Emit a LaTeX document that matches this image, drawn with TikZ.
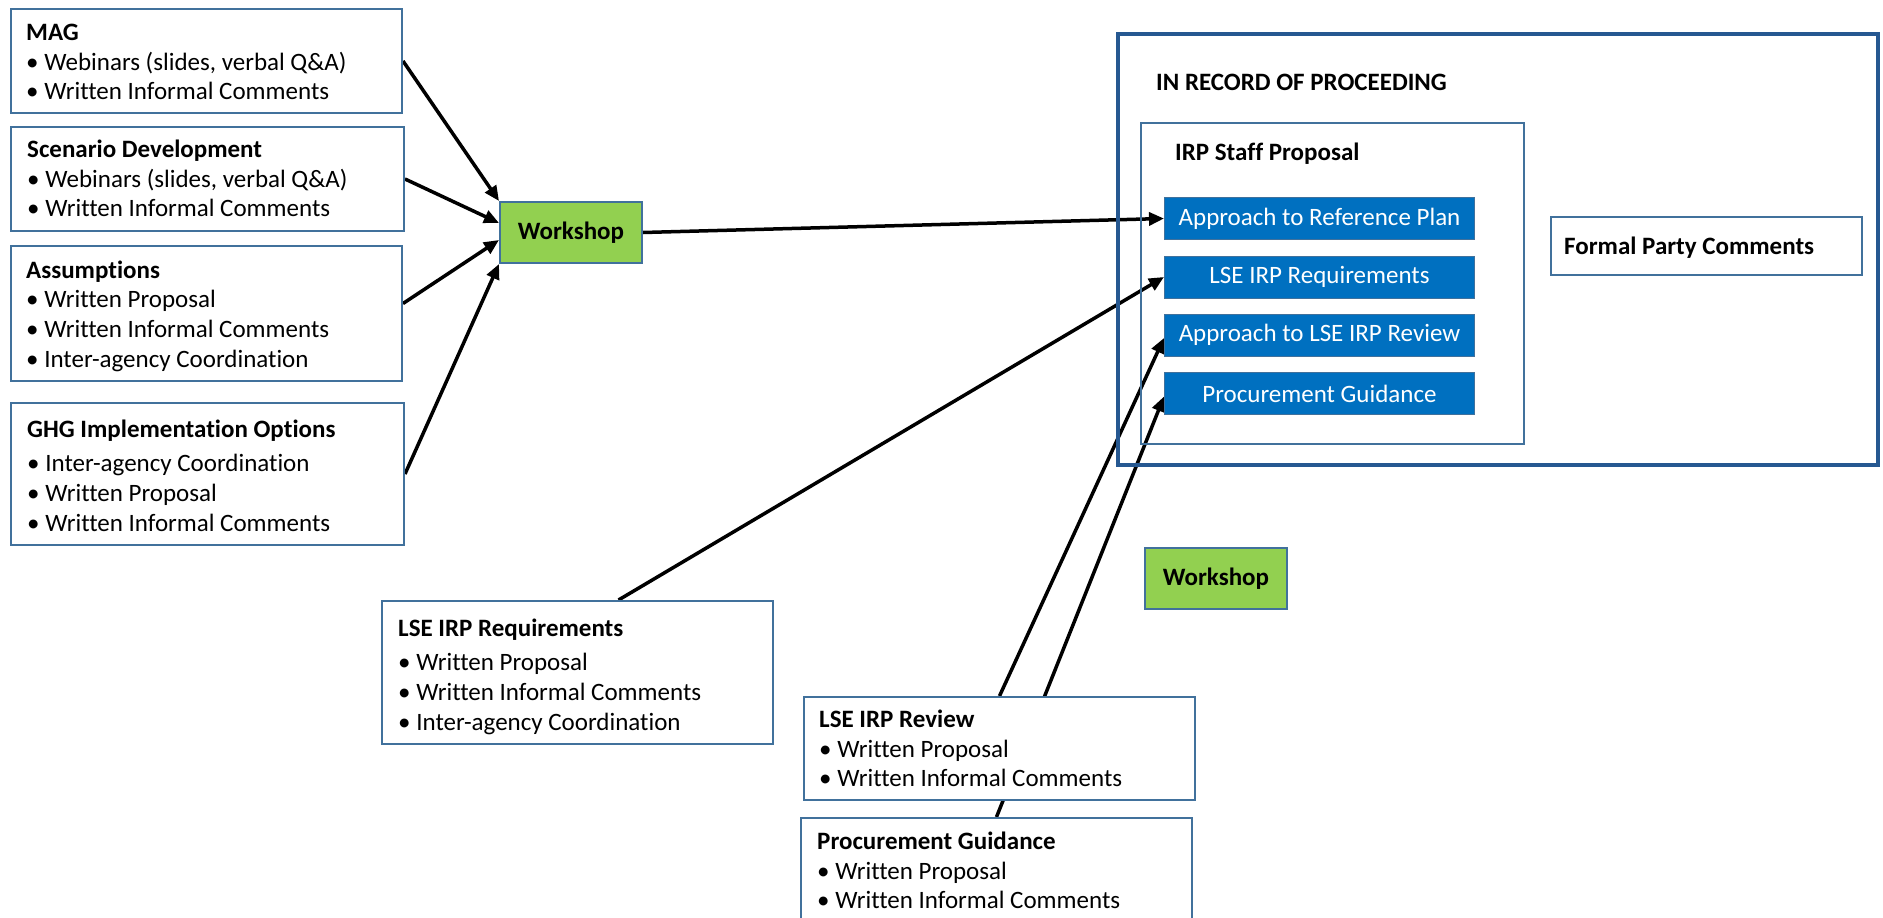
\documentclass[tikz,border=0pt]{standalone}
\usepackage{fontspec}
\setmainfont{Carlito}[Ligatures={NoCommon}]
\usetikzlibrary{arrows.meta}
\definecolor{edgeblue}{RGB}{65,113,156}
\definecolor{darkblue}{RGB}{38,88,145}
\definecolor{fillblue}{RGB}{0,112,192}
\definecolor{wsgreen}{RGB}{146,208,80}
\pgfdeclarelayer{bg}
\pgfsetlayers{bg,main}
\begin{document}
\begin{tikzpicture}[x=1pt,y=-1pt,
  box/.style={draw=edgeblue, line width=2pt, fill=white, anchor=north west, inner sep=0pt},
  frame/.style={draw=#1, anchor=north west, inner sep=0pt},
  ttl/.style={anchor=base west, inner sep=0pt, font=\fontsize{25}{30}\selectfont\bfseries},
  bul/.style={anchor=north west, inner sep=0pt, align=left, font=\fontsize{25}{#1}\selectfont},
  bul/.default=30,
  ws/.style={draw=edgeblue, line width=2pt, fill=wsgreen, minimum width=142pt, minimum height=61pt, inner sep=0pt, font=\fontsize{25}{30}\selectfont\bfseries},
  bluebox/.style={draw=edgeblue, line width=1pt, fill=fillblue, text=white, anchor=north west, minimum width=310pt, minimum height=42pt, inner sep=0pt, font=\fontsize{25}{30}\selectfont},
  conn/.style={line width=3.5pt, -{Triangle[length=15pt,width=13pt]}}
]
\clip (0,0) rectangle (1883,918);
\begin{pgfonlayer}{bg}
\fill[white] (0,0) rectangle (1883,918);
\end{pgfonlayer}

% left source boxes
\node[box, minimum width=391pt, minimum height=104pt] (mag) at (10,8) {};
\node[ttl] (magt) at (26,40) {MAG};
\node[bul=29] (magb) at (26,48) {\rule{0pt}{22pt}• Webinars (slides, verbal Q\&A)\\• Written Informal Comments};

\node[box, minimum width=393pt, minimum height=104pt] (scen) at (10,126) {};
\node[ttl] (scent) at (27,157) {Scenario Development};
\node[bul=29] (scenb) at (27,165) {\rule{0pt}{22pt}• Webinars (slides, verbal Q\&A)\\• Written Informal Comments};

\node[box, minimum width=391pt, minimum height=135pt] (assm) at (10,245) {};
\node[ttl] (assmt) at (26,278) {Assumptions};
\node[bul] (assmb) at (26,285) {\rule{0pt}{22pt}• Written Proposal\\• Written Informal Comments\\• Inter-agency Coordination};

\node[box, minimum width=393pt, minimum height=142pt] (ghg) at (10,402) {};
\node[ttl] (ghgt) at (27,437) {GHG Implementation Options};
\node[bul] (ghgb) at (27,449) {\rule{0pt}{22pt}• Inter-agency Coordination\\• Written Proposal\\• Written Informal Comments};

% workshops
\node[ws] (ws1) at (571,232.5) {Workshop};
\node[ws] (ws2) at (1216,578.5) {Workshop};

% record of proceeding
\node[frame=darkblue, line width=4pt, minimum width=760pt, minimum height=431pt] (rec) at (1116,32) {};
\node[ttl] (rect) at (1156,90) {IN RECORD OF PROCEEDING};
\node[frame=edgeblue, line width=2pt, minimum width=383pt, minimum height=321pt] (irp) at (1140,122) {};
\node[ttl] (irpt) at (1175,160) {IRP Staff Proposal};
\node[bluebox] (ap1) at (1164,197) {Approach to Reference Plan};
\node[bluebox] (ap2) at (1164,255.5) {LSE IRP Requirements};
\node[bluebox] (ap3) at (1164,313.5) {Approach to LSE IRP Review};
\node[bluebox] (ap4) at (1164,372) {Procurement Guidance};
\node[box, minimum width=311pt, minimum height=58pt] (fpc) at (1550,216) {};
\node[ttl] (fpct) at (1564,254) {Formal Party Comments};

% lower source boxes
\node[box, minimum width=391pt, minimum height=143pt] (req) at (381,600) {};
\node[ttl] (reqt) at (398,636) {LSE IRP Requirements};
\node[bul] (reqb) at (398,648) {\rule{0pt}{22pt}• Written Proposal\\• Written Informal Comments\\• Inter-agency Coordination};

\node[box, minimum width=391pt, minimum height=103pt] (rev) at (803,696) {};
\node[ttl] (revt) at (819,727) {LSE IRP Review};
\node[bul=29] (revb) at (819,735) {\rule{0pt}{22pt}• Written Proposal\\• Written Informal Comments};

\node[box, minimum width=391pt, minimum height=120pt] (proc) at (800,817) {};
\node[ttl] (proct) at (817,849) {Procurement Guidance};
\node[bul=29] (procb) at (817,857) {\rule{0pt}{22pt}• Written Proposal\\• Written Informal Comments};

% connectors
\begin{pgfonlayer}{bg}
\draw[conn] (mag.east) -- (ws1.north west);
\draw[conn] (scen.east) -- ([yshift=9.5pt]ws1.west);
\draw[conn] ([yshift=10pt]assm.east) -- ([yshift=-7.5pt]ws1.west);
\draw[conn] (ghg.east) -- (ws1.south west);
\draw[conn] (ws1.east) -- (ap1.west);
\draw[conn] ([xshift=41pt]req.north) -- (ap2.west);
\draw[conn] (rev.north) -- ([yshift=-3pt]ap3.west);
\draw[conn] (proc.north) -- ([yshift=-3pt]ap4.west);
\end{pgfonlayer}
\end{tikzpicture}
\end{document}
